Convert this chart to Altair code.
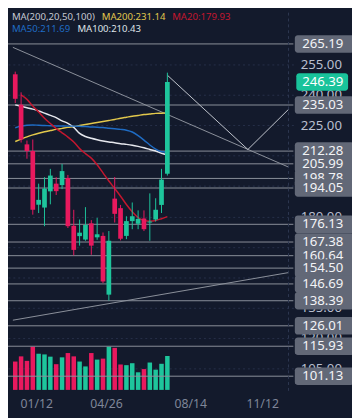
import altair as alt
import pandas as pd

# ---------------- data ----------------
idx = list(range(27))
opens  = [250.2, 235.2, 215.6, 212.3, 185.8, 184.4, 192.4, 196.2, 195.5, 199.0, 175.4, 170.3, 168.6, 176.6,
          169.7, 170.4, 141.4, 188.8, 184.1, 170.4, 177.7, 176.4, 179.0, 177.0, 178.5, 185.7, 201.1]
highs  = [251.5, 241.3, 217.5, 218.0, 196.2, 199.4, 203.5, 199.4, 205.9, 200.5, 183.3, 178.5, 184.6, 178.2,
          179.3, 172.1, 172.8, 199.5, 185.7, 180.1, 186.9, 183.0, 183.0, 191.4, 189.0, 203.5, 251.0]
lows   = [236.0, 216.5, 208.5, 180.9, 181.7, 175.2, 186.0, 190.6, 193.5, 174.3, 160.8, 165.6, 168.0, 161.1,
          168.5, 147.1, 138.5, 177.0, 168.2, 168.8, 173.7, 173.7, 172.8, 168.0, 177.5, 181.7, 200.2]
closes = [238.1, 218.0, 212.3, 183.3, 188.2, 193.8, 200.2, 192.5, 202.4, 175.2, 163.5, 172.0, 175.8, 165.6,
          171.2, 147.9, 168.0, 181.3, 169.0, 177.7, 180.1, 178.8, 173.7, 177.5, 183.3, 198.2, 246.39]
volumes = [29.0, 34.3, 29.7, 44.3, 37.0, 36.3, 34.0, 26.3, 33.3, 37.7, 34.3, 29.0, 24.0, 37.7,
           31.0, 32.0, 44.3, 43.0, 26.0, 25.3, 27.3, 18.0, 21.3, 28.0, 20.7, 26.7, 34.7]

ma200 = [217.0, 218.2, 219.3, 220.3, 221.1, 221.8, 222.4, 223.0, 223.5, 224.0, 224.4, 224.9, 225.4, 225.9,
         226.4, 226.9, 227.4, 227.9, 228.5, 229.0, 229.5, 229.9, 230.3, 230.6, 230.9, 231.0, 231.14]
ma20 = [None, 240.0, 237.8, 234.5, 231.6, 228.5, 225.9, 223.4, 221.3, 219.2, 216.8, 213.5, 211.0, 208.8,
        205.5, 201.5, 197.5, 193.8, 190.0, 185.9, 182.3, 179.5, 178.0, 177.7, 178.0, 178.9, 179.93]
ma50 = [223.8, 224.6, 225.0, 225.2, 225.0, 224.9, 224.8, 224.7, 224.7, 224.6, 224.6, 224.5, 224.4, 224.2,
        224.1, 223.9, 223.6, 223.3, 223.0, 222.6, 221.7, 219.9, 217.7, 215.3, 213.3, 212.0, 211.69]
ma100 = [235.1, 234.4, 233.7, 233.0, 232.1, 231.0, 229.9, 228.8, 227.2, 226.0, 224.0, 221.0, 219.5, 218.6,
         217.9, 217.3, 216.8, 216.4, 215.9, 215.6, 215.2, 214.6, 213.9, 213.1, 212.3, 211.2, 210.43]

levels = [265.19, 235.03, 212.28, 205.99, 198.78, 194.05, 176.13, 167.38, 160.64, 154.50,
          146.69, 138.39, 126.01, 115.93, 101.13]
last_price = 246.39

# trend lines: (line id, x index, price)
trend_ids    = ["a", "a", "b", "b", "b", "c", "c"]
trend_x      = [-0.403, 46.7, 26.0, 39.76, 46.7, -0.403, 46.7]
trend_prices = [263.5, 204.4, 249.75, 213.07, 232.86, 128.78, 152.28]

tick_vals   = [3.6, 15.5, 29.9, 42.2]
tick_labels = ["01/12", "04/26", "08/14", "11/12"]
y_ticks = [105, 120, 135, 150, 165, 180, 195, 210, 225, 240, 255]

header = [("MA(200,20,50,100)", "#c5c9d3"), ("MA200:231.14", "#e2c84c"), ("MA20:179.93", "#c4172f"),
          ("MA50:211.69", "#1f6cc4"), ("MA100:210.43", "#dfe2e8")]

# ---------------- style ----------------
BG = "#131a2c"
GREEN = "#1ec59c"
RED = "#e8195e"
W, H = 292, 387
X_MIN, X_MAX = -0.403, 46.7
Y_MIN, Y_MAX = 93.89, 280.63
FONT = "Noto Sans"

xscale = alt.Scale(domain=[X_MIN, X_MAX], nice=False, zero=False)
yscale = alt.Scale(domain=[Y_MIN, Y_MAX], nice=False, zero=False)

expr = " : ".join(f"datum.value < {v + 1} ? '{t}'" for v, t in zip(tick_vals[:-1], tick_labels[:-1]))
expr += f" : '{tick_labels[-1]}'"
xaxis = alt.Axis(values=tick_vals, labelExpr=expr, grid=False, ticks=False, tickSize=0, domain=False,
                 labelColor="#7f8698", labelFontSize=12.5, labelFont=FONT, labelPadding=7, title=None,
                 labelFlush=False)
yaxis = alt.Axis(orient="right", values=y_ticks, format=".2f", grid=True, gridDash=[2, 3],
                 gridColor="#27304a", domain=False, ticks=False, tickSize=0, labelPadding=7,
                 labelColor="#b9bfcf", labelFontSize=13.5, labelFont=FONT, title=None)


def X(field):
    return alt.X(field, type="quantitative", scale=xscale, axis=xaxis, title=None)


def Y(field):
    return alt.Y(field, type="quantitative", scale=yscale, axis=yaxis, title=None)


candles = pd.DataFrame({"i": idx, "open": opens, "high": highs, "low": lows, "close": closes, "vol": volumes})
updown = alt.condition("datum.close >= datum.open", alt.value(GREEN), alt.value(RED))

base = alt.Chart(candles)

levels_df = pd.DataFrame({"price": levels})
level_rules = alt.Chart(levels_df).mark_rule(color="#8c919c", strokeWidth=1).encode(y=Y("price"))

trend_df = pd.DataFrame({"id": trend_ids, "i": trend_x, "price": trend_prices})
trend = alt.Chart(trend_df).mark_line(strokeWidth=1).encode(
    x=X("i"), y=Y("price"), detail="id:N",
    color=alt.condition("datum.id == 'b'", alt.value("#c3c7cf"), alt.value("#8d929d")))

right_edge = alt.Chart(alt.Data(values=[{}])).mark_rule(color="#2e3852", strokeDash=[3, 3]).encode(
    x=alt.datum(X_MAX))

ma_layers = []
for vals, col in [(ma200, "#e2c84c"), (ma100, "#e6e8ee"), (ma50, "#1f6cc4"), (ma20, "#c4172f")]:
    df = pd.DataFrame({"i": idx, "v": vals}).dropna()
    ma_layers.append(alt.Chart(df).mark_line(strokeWidth=1.5, color=col, interpolate="monotone").encode(
        x=X("i"), y=Y("v")))

wicks = base.mark_rule(strokeWidth=1).encode(x=X("i"), y=Y("low"), y2="high", color=updown)
bodies = base.mark_bar(width=4.8).encode(x=X("i"), y=Y("open"), y2="close", color=updown)

# badges
badge_layers = []
for p in levels:
    d = alt.Data(values=[{"price": p, "label": f"{p:.2f}"}])
    badge_layers.append(alt.Chart(d).mark_rect(color="#626877", cornerRadius=3, yOffset=-9, y2Offset=9).encode(
        x=alt.value(W + 1.5), x2=alt.value(W + 62), y=Y("price"), y2="price"))
    badge_layers.append(alt.Chart(d).mark_text(align="left", baseline="middle", color="#f2f3f6",
                                               fontSize=13.5, font=FONT).encode(
        x=alt.value(W + 9), y=Y("price"), text="label:N"))
dlast = alt.Data(values=[{"price": last_price, "label": f"{last_price:.2f}"}])
badge_layers.append(alt.Chart(dlast).mark_rect(color="#19c39b", cornerRadius=3, yOffset=-9, y2Offset=9).encode(
    x=alt.value(W + 3), x2=alt.value(W + 56), y=Y("price"), y2="price"))
badge_layers.append(alt.Chart(dlast).mark_text(align="left", baseline="middle", color="#ffffff",
                                               fontSize=13.5, font=FONT).encode(
    x=alt.value(W + 9), y=Y("price"), text="label:N"))

# header texts
hdr_layers = []
hpos = [(4, 5), (96, 5), (168, 5), (4, 17), (71, 17)]
for (txt, col), (hx, hy) in zip(header, hpos):
    hdr_layers.append(alt.Chart(alt.Data(values=[{}])).mark_text(
        text=txt, color=col, fontSize=9.8, font=FONT, align="left", baseline="middle").encode(
        x=alt.value(hx), y=alt.value(hy)))

price_layer = alt.layer(level_rules, trend, right_edge, *ma_layers, wicks, bodies, *badge_layers, *hdr_layers)

volume = base.mark_bar(width=4.6).encode(
    x=X("i"),
    y=alt.Y("vol:Q", scale=alt.Scale(domain=[-1, H - 1], nice=False, zero=False), axis=None),
    color=updown)

chart = alt.layer(volume, price_layer).resolve_scale(y="independent").properties(
    width=W, height=H,
    autosize=alt.AutoSizeParams(type="none"),
    padding={"left": 0, "top": 0, "right": 60, "bottom": 23},
    background=BG,
).configure_view(stroke=None)

chart.save("out.html", embed_options={"renderer": "svg", "actions": False})
